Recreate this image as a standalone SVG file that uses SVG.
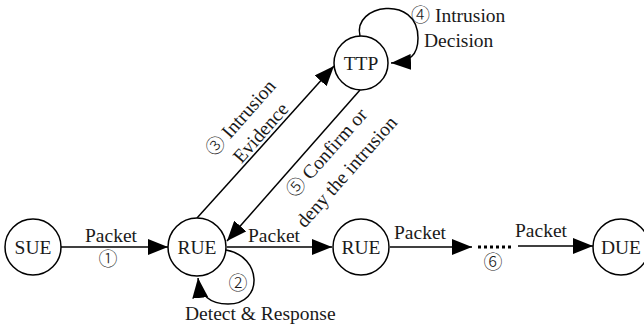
<svg xmlns="http://www.w3.org/2000/svg" width="644" height="327" viewBox="0 0 644 327">
<style>
.node{fill:#fff;stroke:#000;stroke-width:1.5}
.t{font-family:"Liberation Serif","Times New Roman",serif;font-size:19.5px;fill:#1a1a1a}
.c{font-family:"Noto Sans CJK SC","DejaVu Sans",sans-serif;font-size:19px;font-weight:300;fill:#1a1a1a}
.e{fill:none;stroke:#000;stroke-width:1.5}
</style>
<defs>
<marker id="ah" viewBox="0 0 20 16" refX="20" refY="8" markerWidth="20" markerHeight="16" orient="auto" markerUnits="userSpaceOnUse"><path d="M0,0 L20,8 L0,16 z" fill="#000"/></marker>
</defs>
<rect width="644" height="327" fill="#fff"/>
<g id="connectors">
<line class="e" x1="61" y1="247" x2="168" y2="247" marker-end="url(#ah)"/>
<line class="e" x1="227" y1="247" x2="332" y2="247" marker-end="url(#ah)"/>
<line class="e" x1="390" y1="247" x2="472" y2="247" marker-end="url(#ah)"/>
<line x1="478" y1="247" x2="514" y2="247" stroke="#000" stroke-width="3" stroke-dasharray="3,3"/>
<line class="e" x1="518" y1="246" x2="593" y2="246" marker-end="url(#ah)"/>
<line class="e" x1="197" y1="218" x2="334" y2="66" marker-end="url(#ah)"/>
<line class="e" x1="360" y1="90" x2="227" y2="241" marker-end="url(#ah)"/>
<path class="e" d="M226,250 C262,256 264,304 228,304 C210,304 200,296 198,278" marker-end="url(#ah)"/>
<path class="e" d="M360,36 C352,4 418,-6 418,38 C418,55 410,62 391,63" marker-end="url(#ah)"/>
</g>
<g id="SUE"><circle class="node" cx="33" cy="247" r="28"/><text class="t" x="33" y="254" text-anchor="middle">SUE</text></g>
<g id="RUE1"><circle class="node" cx="197" cy="247" r="29"/><text class="t" x="197" y="254" text-anchor="middle">RUE</text></g>
<g id="RUE2"><circle class="node" cx="361" cy="247" r="28"/><text class="t" x="361" y="254" text-anchor="middle">RUE</text></g>
<g id="DUE"><circle class="node" cx="621" cy="247" r="28"/><text class="t" x="621" y="254" text-anchor="middle">DUE</text></g>
<g id="TTP"><circle class="node" cx="361" cy="63" r="27"/><text class="t" x="361" y="70" text-anchor="middle">TTP</text></g>
<g id="labels">
<text class="t" x="111" y="242" text-anchor="middle">Packet</text>
<text class="c" x="108" y="266" text-anchor="middle">①</text>
<text class="t" x="274" y="242" text-anchor="middle">Packet</text>
<text class="t" x="420" y="239" text-anchor="middle">Packet</text>
<text class="t" x="541" y="237" text-anchor="middle">Packet</text>
<text class="c" x="493" y="269" text-anchor="middle">⑥</text>
<text class="c" x="238" y="290" text-anchor="middle">②</text>
<text class="t" x="185" y="320">Detect &amp; Response</text>
<text x="411" y="22"><tspan class="c">④</tspan><tspan class="t"> Intrusion</tspan></text>
<text class="t" x="424" y="47">Decision</text>
<g transform="translate(241,118) rotate(-48.5)"><text x="0" y="6" text-anchor="middle"><tspan class="c">③</tspan><tspan class="t"> Intrusion</tspan></text></g>
<g transform="translate(261,133) rotate(-48.5)"><text class="t" x="0" y="6" text-anchor="middle">Evidence</text></g>
<g transform="translate(327,153) rotate(-48.5)"><text x="0" y="6" text-anchor="middle"><tspan class="c">⑤</tspan><tspan class="t"> Confirm or</tspan></text></g>
<g transform="translate(347,172) rotate(-48.5)"><text class="t" x="0" y="6" text-anchor="middle">deny the intrusion</text></g>
</g>
</svg>
